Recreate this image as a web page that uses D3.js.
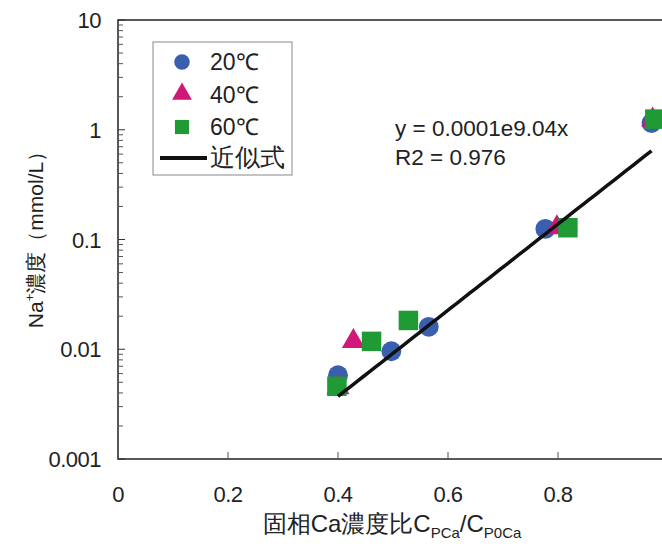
<!DOCTYPE html>
<html><head><meta charset="utf-8">
<script src="https://cdn.jsdelivr.net/npm/d3@7"></script>
<style>body{margin:0;background:#fff;}svg{display:block;font-family:"Liberation Sans",Arial,sans-serif;}</style>
</head><body>
<script>
const series20 = [[0.40,0.0058],[0.497,0.0096],[0.565,0.0160],[0.777,0.125],[0.970,1.15]];
const series40 = [[0.40,0.0043],[0.428,0.0113],[0.798,0.123],[0.972,1.18]];
const series60 = [[0.398,0.0046],[0.461,0.0118],[0.528,0.0183],[0.818,0.128],[0.976,1.25]];
const fitA = 0.0001, fitB = 9.04, fitRange = [0.40, 0.97];
const xTicks = [0,0.2,0.4,0.6,0.8,1];
const yTicks = [0.001,0.01,0.1,1,10];
const yTickLabels = ["0.001","0.01","0.1","1","10"];
const legendLabels = ["20\u2103","40\u2103","60\u2103","近似式"];

const W=662,H=549;
const m={l:118,t:20};
const pw=550, ph=439;
const svg=d3.select("body").append("svg").attr("width",W).attr("height",H);
const x=d3.scaleLinear().domain([0,1]).range([m.l,m.l+pw]);
const y=d3.scaleLog().domain([0.001,10]).range([m.t+ph,m.t]);

const g=svg.append("g");
g.append("rect").attr("x",m.l).attr("y",m.t).attr("width",pw).attr("height",ph)
 .attr("fill","none").attr("stroke","#222").attr("stroke-width",1.5);

const minor=[];
for(let d=-3;d<1;d++){for(let k=2;k<=9;k++){minor.push(k*Math.pow(10,d));}}
g.selectAll(".ymin").data(minor).enter().append("line")
 .attr("x1",m.l).attr("x2",m.l+5).attr("y1",d=>y(d)).attr("y2",d=>y(d))
 .attr("stroke","#555").attr("stroke-width",1);
g.selectAll(".ymaj").data(yTicks).enter().append("line")
 .attr("x1",m.l).attr("x2",m.l+7).attr("y1",d=>y(d)).attr("y2",d=>y(d))
 .attr("stroke","#333").attr("stroke-width",1);
g.selectAll(".ylab").data(yTicks).enter().append("text")
 .attr("x",m.l-17).attr("y",d=>y(d)+8).attr("text-anchor","end")
 .attr("font-size",22).attr("letter-spacing",-0.5).attr("fill","#222").text((d,i)=>yTickLabels[i]);

g.selectAll(".xmaj").data(xTicks).enter().append("line")
 .attr("x1",d=>x(d)).attr("x2",d=>x(d)).attr("y1",m.t+ph).attr("y2",m.t+ph-7)
 .attr("stroke","#555").attr("stroke-width",1);
g.selectAll(".xlab").data(xTicks).enter().append("text")
 .attr("x",d=>x(d)).attr("y",m.t+ph+43).attr("text-anchor","middle")
 .attr("font-size",22).attr("letter-spacing",-0.5).attr("fill","#222").text(d=>d3.format("")(d));

const yt=g.append("text").attr("transform",`translate(43,${m.t+ph/2-5}) rotate(-90)`)
 .attr("text-anchor","middle").attr("font-size",21).attr("fill","#222");
yt.append("tspan").text("Na");
yt.append("tspan").attr("font-size",13).attr("dy",-9).text("+");
yt.append("tspan").attr("dy",9).text("濃度（mmol/L）");

const xt=g.append("text").attr("x",392).attr("y",532).attr("text-anchor","middle")
 .attr("font-size",24).attr("fill","#222");
xt.append("tspan").text("固相Ca濃度比C");
xt.append("tspan").attr("font-size",15).attr("dy",6).text("PCa");
xt.append("tspan").attr("dy",-6).text("/C");
xt.append("tspan").attr("font-size",15).attr("dy",6).text("P0Ca");

const cBlue="#3a5fae", cMag="#d2177a", cGreen="#1f9a35";
const sym={
 circle:d3.symbol().type(d3.symbolCircle).size(310),
 tri:d3.symbol().type(d3.symbolTriangle).size(230),
 sq:d3.symbol().type(d3.symbolSquare).size(380)
};
function drawSeries(data,path,color,dy){
 g.append("g").selectAll("path").data(data).enter().append("path")
  .attr("d",path).attr("fill",color)
  .attr("transform",d=>`translate(${x(d[0])},${y(d[1])+(dy||0)})`);
}
drawSeries(series20,sym.circle,cBlue);
drawSeries(series40,sym.tri,cMag,-2);
drawSeries(series60,sym.sq,cGreen);

const fitPts=d3.range(0,51).map(i=>{const xv=fitRange[0]+(fitRange[1]-fitRange[0])*i/50;return [xv,fitA*Math.exp(fitB*xv)];});
g.append("path").datum(fitPts).attr("fill","none").attr("stroke","#111").attr("stroke-width",3.5)
 .attr("d",d3.line().x(d=>x(d[0])).y(d=>y(d[1])));

g.append("text").attr("x",395).attr("y",136).attr("font-size",22.5).attr("fill","#222").text("y = 0.0001e9.04x");
g.append("text").attr("x",395).attr("y",165).attr("font-size",22.5).attr("fill","#222").text("R2 = 0.976");

const lg=g.append("g");
lg.append("rect").attr("x",153).attr("y",42).attr("width",139).attr("height",133)
 .attr("fill","#fff").attr("stroke","#888").attr("stroke-width",1);
const ly=[62,95,127,158];
lg.append("path").attr("d",d3.symbol().type(d3.symbolCircle).size(190)).attr("fill",cBlue).attr("transform",`translate(182,${ly[0]})`);
lg.append("path").attr("d",d3.symbol().type(d3.symbolTriangle).size(170)).attr("fill",cMag).attr("transform",`translate(182,${ly[1]-1})`);
lg.append("path").attr("d",d3.symbol().type(d3.symbolSquare).size(200)).attr("fill",cGreen).attr("transform",`translate(182,${ly[2]})`);
lg.append("line").attr("x1",160).attr("x2",207).attr("y1",ly[3]).attr("y2",ly[3]).attr("stroke","#111").attr("stroke-width",4);
legendLabels.forEach((t,i)=>{
 lg.append("text").attr("x",210).attr("y",ly[i]+8).attr("font-size",i<3?23:25).attr("fill","#222").text(t);
});
</script>
</body></html>
